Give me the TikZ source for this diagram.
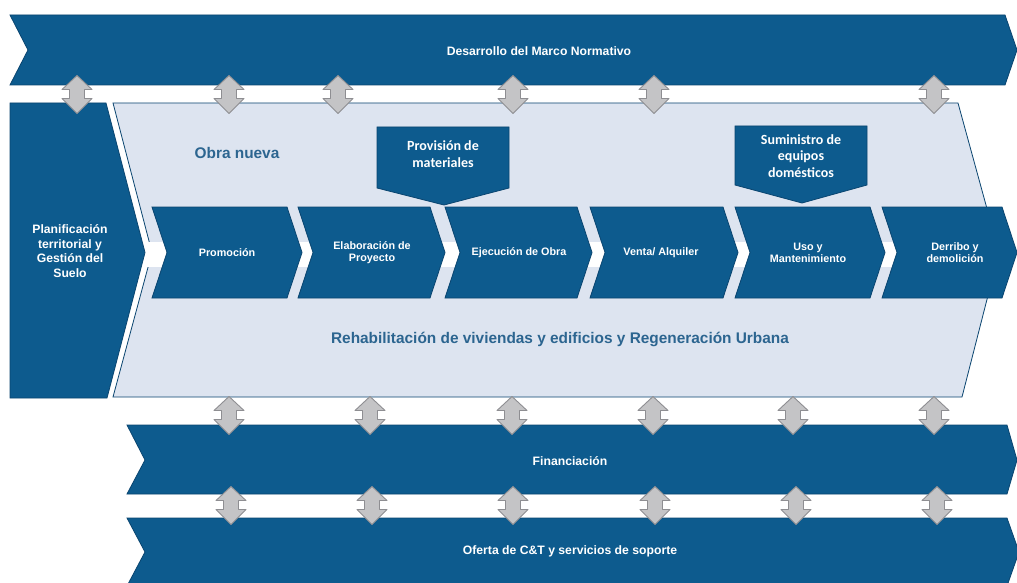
\documentclass[tikz,border=0pt]{standalone}
\usepackage{fontspec}
\setmainfont{Liberation Sans}
\newfontfamily\calfont{Carlito}
\definecolor{dblue}{HTML}{0D5B8E}
\definecolor{eblue}{HTML}{0A4570}
\definecolor{tblue}{HTML}{2C6590}
\definecolor{panel}{HTML}{DDE4F0}
\definecolor{agray}{HTML}{C4C4C6}
\definecolor{aedge}{HTML}{8E8E92}
\tikzset{
  bar/.style={fill=dblue,draw=eblue,line width=0.8pt,line join=miter},
  panelbox/.style={fill=panel,draw=eblue,line width=0.8pt},
  stagebox/.style={fill=dblue,draw=eblue,line width=0.8pt},
  bartext/.style={text=white,font=\fontsize{12.2}{14.6}\selectfont\bfseries,align=center},
  stagetext/.style={text=white,font=\fontsize{10.8}{12}\selectfont\bfseries,align=center},
  calltext/.style={text=white,font=\calfont\fontsize{14}{16.5}\selectfont\bfseries,align=center},
  bigtext/.style={text=tblue,font=\fontsize{15.4}{18}\selectfont\bfseries},
  arrowstyle/.style={fill=agray,draw=aedge,line width=0.9pt,line join=round},
  dbl/.pic={\path[arrowstyle] (0,-19)--(15,-5)--(7.5,-5)--(7.5,4)--(15,4)--(0,19)--(-15,4)--(-7.5,4)--(-7.5,-5)--(-15,-5)--cycle;}
}
\newcommand\stageitem[5]{%
  \path[stagebox] (#2,207)--(#3,207)--({#3+15},252.5)--(#3,298)--(#2,298)--({#2+15},252.5)--cycle;
  \node[stagetext] (#1) at (#4,252.5) {#5};}
\begin{document}
\begin{tikzpicture}[x=1pt,y=-1pt]
\useasboundingbox (0,0) rectangle (1017,583);
\fill[white] (0,0) rectangle (1017,583);
% top banner
\path[bar] (10,15)--(1005,15)--(1017,50)--(1005,85)--(10,85)--(28,50)--cycle;
\node[bartext] (marco) at (539,51) {Desarrollo del Marco Normativo};
% left box
\path[bar] (10,103)--(106,103)--(145,252.5)--(107,398)--(10,398)--cycle;
\node[bartext] (plan) at (70,251) {Planificación\\territorial y\\Gestión del\\Suelo};
% panel
\path[panelbox] (113,103)--(958,103)--(999,252.5)--(962,397)--(113,397)--(152,252.5)--cycle;
% white band behind stages
\fill[white] (146,242) rectangle (1000,267);
\node[bigtext] (obra) at (237,153) {Obra nueva};
\node[bigtext] (rehab) at (560,339) {Rehabilitación de viviendas y edificios y Regeneración Urbana};
% stages
\stageitem{prom}{152}{287}{227}{Promoción}
\stageitem{elab}{298}{430}{372}{Elaboración de\\Proyecto}
\stageitem{ejec}{445}{577}{519}{Ejecución de Obra}
\stageitem{venta}{590}{723}{661}{Venta/ Alquiler}
\stageitem{uso}{735}{870}{808}{Uso y\\Mantenimiento}
\stageitem{derr}{882}{1002}{955}{Derribo y\\demolición}
% callouts
\path[stagebox] (377,127)--(509,127)--(509,188)--(444,205)--(377,188)--cycle;
\node[calltext] (prov) at (443,154) {Provisión de\\materiales};
\path[stagebox] (735,126)--(867,126)--(867,185)--(802,203)--(735,185)--cycle;
\node[calltext] (sumi) at (801,156) {Suministro de\\equipos\\domésticos};
% bottom bars
\path[bar] (127,425)--(1007,425)--(1017,460)--(1007,494)--(127,494)--(145,460)--cycle;
\node[bartext] (fin) at (570,461) {Financiación};
\path[bar] (127,518)--(1007,518)--(1019,552)--(1007,586)--(127,586)--(145,552)--cycle;
\node[bartext] (oferta) at (570,551) {Oferta de C\&T y servicios de soporte};
% double arrows
\foreach \xx in {77,229,338,513,654,934} \pic at (\xx,94.5) {dbl};
\foreach \xx in {229,370,512,653,793,934} \pic at (\xx,415.5) {dbl};
\foreach \xx in {231,372,513,655,796,937} \pic at (\xx,505.5) {dbl};
\end{tikzpicture}
\end{document}
